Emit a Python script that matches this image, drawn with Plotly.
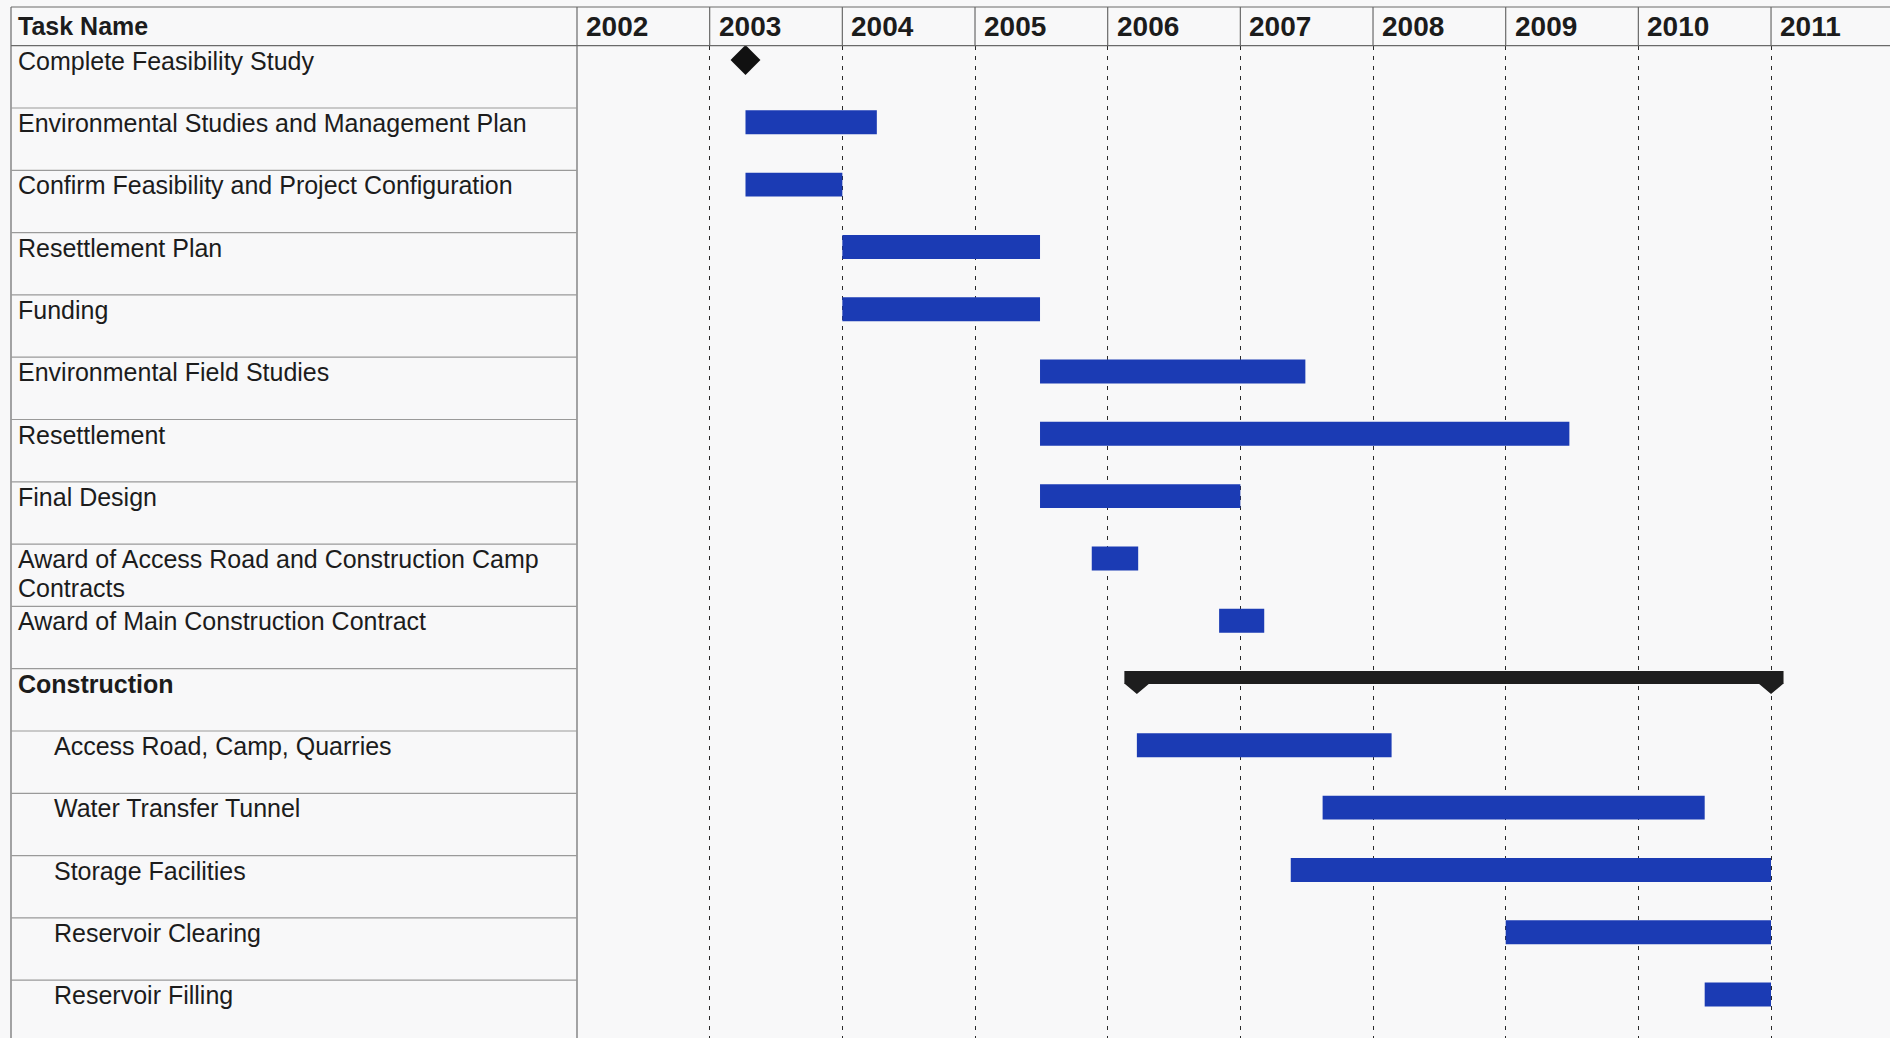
import plotly.graph_objects as go

# ---------------- data ----------------
tasks = [
    "Complete Feasibility Study",
    "Environmental Studies and Management Plan",
    "Confirm Feasibility and Project Configuration",
    "Resettlement Plan",
    "Funding",
    "Environmental Field Studies",
    "Resettlement",
    "Final Design",
    "Award of Access Road and Construction Camp<br>Contracts",
    "Award of Main Construction Contract",
    "Construction",
    "Access Road, Camp, Quarries",
    "Water Transfer Tunnel",
    "Storage Facilities",
    "Reservoir Clearing",
    "Reservoir Filling",
]
kinds = ["milestone", "task", "task", "task", "task", "task", "task", "task",
         "task", "task", "summary", "task", "task", "task", "task", "task"]
outline_level = [1, 1, 1, 1, 1, 1, 1, 1, 1, 1, 1, 2, 2, 2, 2, 2]
starts = [2003.27, 2003.27, 2003.27, 2004.0, 2004.0, 2005.49, 2005.49, 2005.49,
          2005.88, 2006.84, 2006.22, 2006.22, 2007.62, 2007.38, 2009.0, 2010.5]
ends = [2003.27, 2004.26, 2004.0, 2005.49, 2005.49, 2007.49, 2009.48, 2007.0,
        2006.23, 2007.18, 2011.0, 2008.14, 2010.5, 2011.0, 2011.0, 2011.0]
years = [2002, 2003, 2004, 2005, 2006, 2007, 2008, 2009, 2010, 2011]
header_task = "Task Name"

# ---------------- geometry / style ----------------
W, H = 1890, 1038
X0_PX = 577.0          # left edge of timeline (2002)
YEAR_PX = 132.67       # pixels per year
HDR_TOP, HDR_BOT = 7.0, 45.7
ROW_PX = 62.3
TABLE_LEFT = 11.0
LINE_STEP = 29         # px between wrapped label lines
FONT = "Liberation Sans, Arial, sans-serif"
BLUE = "#1b3bb4"
INK = "#1c1c1c"
DARK = "#1e1e1e"
BG = "#f8f8f9"

x_min = years[0]
x_max = years[0] + (W - X0_PX) / YEAR_PX
rows_visible = (H - HDR_BOT) / ROW_PX
y_range = [-0.5 + rows_visible, -0.5]
BAR_OFF = -0.27
BAR_W = 0.385

def row_y(i, px_below_top):
    return i - 0.5 + px_below_top / ROW_PX

fig = go.Figure()

# regular task bars
t_idx = [i for i, k in enumerate(kinds) if k == "task"]
fig.add_trace(go.Bar(
    orientation="h",
    y=[i + BAR_OFF for i in t_idx],
    base=[starts[i] for i in t_idx],
    x=[ends[i] - starts[i] for i in t_idx],
    width=BAR_W,
    marker=dict(color=BLUE, line=dict(width=0)),
    showlegend=False, hoverinfo="skip",
))

# summary bar (Construction)
s_idx = [i for i, k in enumerate(kinds) if k == "summary"]
PAD = 12.5 / YEAR_PX
SB_TOP, SB_BOT, SB_TIP = 2.3, 15.3, 25.3   # px below row top
fig.add_trace(go.Bar(
    orientation="h",
    y=[row_y(i, (SB_TOP + SB_BOT) / 2) for i in s_idx],
    base=[starts[i] - PAD for i in s_idx],
    x=[ends[i] - starts[i] + 2 * PAD for i in s_idx],
    width=(SB_BOT - SB_TOP) / ROW_PX,
    marker=dict(color=DARK, line=dict(width=0)),
    showlegend=False, hoverinfo="skip",
))
tx, ty = [], []
for i in s_idx:
    for xv in (starts[i], ends[i]):
        yb = row_y(i, SB_BOT - 0.5)
        yt = row_y(i, SB_TIP)
        tx += [xv - PAD, xv + PAD, xv, xv - PAD, None]
        ty += [yb, yb, yt, yb, None]
fig.add_trace(go.Scatter(
    x=tx, y=ty, mode="lines", fill="toself", fillcolor=DARK,
    line=dict(width=0, color=DARK), showlegend=False, hoverinfo="skip",
))

# milestone
m_idx = [i for i, k in enumerate(kinds) if k == "milestone"]
fig.add_trace(go.Scatter(
    x=[starts[i] for i in m_idx], y=[i + BAR_OFF for i in m_idx], mode="markers",
    marker=dict(symbol="diamond", size=23, color="#111111", line=dict(width=0)),
    showlegend=False, hoverinfo="skip",
))

shapes = []
def hline(y_px, x0_px, x1_px, color="#6a6a6a", w=1.2):
    shapes.append(dict(type="line", xref="paper", yref="paper",
                       x0=x0_px / W, x1=x1_px / W, y0=1 - y_px / H, y1=1 - y_px / H,
                       line=dict(color=color, width=w)))
def vline(x_px, y0_px, y1_px, color="#6a6a6a", w=1.2):
    shapes.append(dict(type="line", xref="paper", yref="paper",
                       x0=x_px / W, x1=x_px / W, y0=1 - y0_px / H, y1=1 - y1_px / H,
                       line=dict(color=color, width=w)))

hline(HDR_TOP, TABLE_LEFT, W)
hline(HDR_BOT, TABLE_LEFT, W)
vline(TABLE_LEFT, HDR_TOP, H)
vline(X0_PX, HDR_TOP, H)
for yr in years[1:]:
    xp = X0_PX + (yr - years[0]) * YEAR_PX
    vline(xp, HDR_TOP, HDR_BOT)
# row separators in the task column
for i in range(len(tasks)):
    shapes.append(dict(type="line", xref="paper", yref="y",
                       x0=TABLE_LEFT / W, x1=X0_PX / W, y0=i + 0.5, y1=i + 0.5,
                       line=dict(color="#9a9a9a", width=1.2)))

annotations = []
# header
annotations.append(dict(text="<b>%s</b>" % header_task, xref="paper", yref="paper",
                        x=15.7 / W, y=1 - (HDR_TOP + HDR_BOT) / 2 / H,
                        xanchor="left", yanchor="middle", showarrow=False,
                        font=dict(family=FONT, size=25, color=INK)))
for yr in years:
    annotations.append(dict(text="<b>%d</b>" % yr, xref="x", yref="paper",
                            x=yr, y=1 - (HDR_TOP + HDR_BOT) / 2 / H,
                            xanchor="left", yanchor="middle", xshift=7,
                            showarrow=False,
                            font=dict(family=FONT, size=28, color=INK)))
# task names (wrapped lines placed one by one)
for i, name in enumerate(tasks):
    indent = 15.7 if outline_level[i] == 1 else 51.8
    for k, line in enumerate(name.split("<br>")):
        txt = "<b>%s</b>" % line if kinds[i] == "summary" else line
        annotations.append(dict(text=txt, xref="paper", yref="y",
                                x=indent / W, y=i - 0.5, yanchor="top", xanchor="left",
                                align="left", yshift=1 - k * LINE_STEP, showarrow=False,
                                font=dict(family=FONT, size=25, color=INK)))

fig.update_layout(
    width=W, height=H,
    margin=dict(l=0, r=0, t=0, b=0),
    paper_bgcolor=BG, plot_bgcolor=BG,
    barmode="overlay",
    shapes=shapes, annotations=annotations,
    xaxis=dict(domain=[X0_PX / W, 1], range=[x_min, x_max], tickvals=years[1:],
               showticklabels=False, ticks="", showgrid=True, gridcolor="#2a2a2a",
               gridwidth=1.3, griddash="4px,6px", zeroline=False, showline=False),
    yaxis=dict(domain=[0, 1 - HDR_BOT / H], range=y_range, showticklabels=False,
               showgrid=False, zeroline=False, showline=False, ticks=""),
)

fig.write_html("out.html", config={"displayModeBar": False},
               post_script="document.body.style.margin='0';document.body.style.overflow='hidden';")
